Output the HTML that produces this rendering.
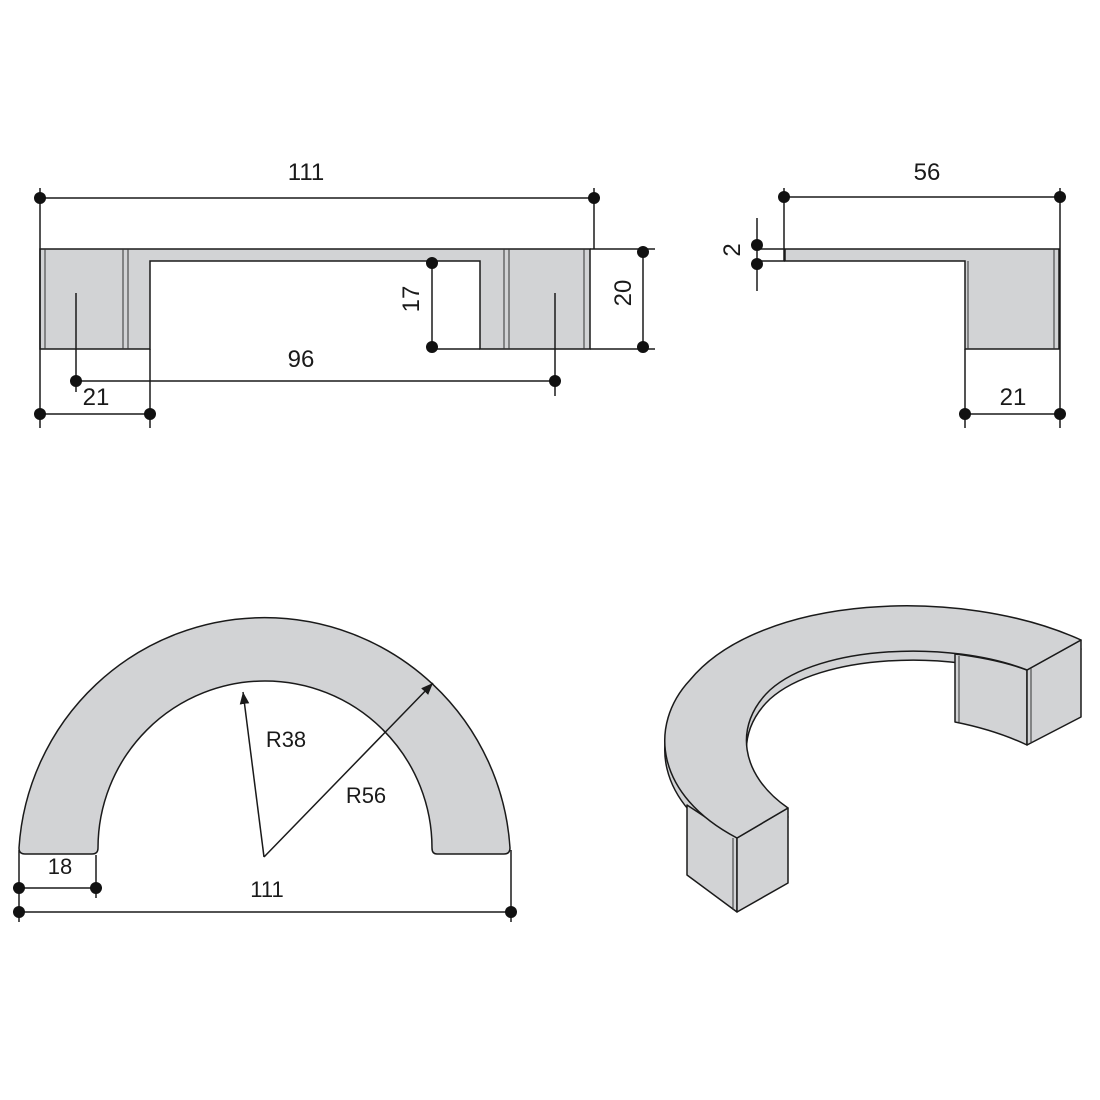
<!DOCTYPE html>
<html><head><style>html,body{margin:0;padding:0;background:#fff;}svg{display:block;}</style></head>
<body>
<svg width="1100" height="1100" viewBox="0 0 1100 1100" xmlns="http://www.w3.org/2000/svg" font-family="Liberation Sans, Arial, sans-serif" font-size="24" fill="none" stroke="#1a1a1a">
<defs><marker id="ar" viewBox="0 0 10 10" refX="10" refY="5" markerWidth="12" markerHeight="12" markerUnits="userSpaceOnUse" orient="auto"><path d="M0,1 L10,5 L0,9 Z" fill="#1a1a1a" stroke="none"/></marker></defs>

<!-- FRONT VIEW -->
<path d="M40,249 H590 V349 H480 V261 H150 V349 H40 Z" fill="#d2d3d5" stroke-width="1.5"/>
<g stroke-width="1" stroke="#333">
<line x1="45" y1="249" x2="45" y2="349"/><line x1="123" y1="249" x2="123" y2="349"/><line x1="128" y1="249" x2="128" y2="349"/>
<line x1="504" y1="249" x2="504" y2="349"/><line x1="509" y1="249" x2="509" y2="349"/><line x1="584" y1="249" x2="584" y2="349"/>
</g>
<g stroke-width="1.5">
<line x1="40" y1="198" x2="594" y2="198"/><line x1="40" y1="188" x2="40" y2="428"/><line x1="594" y1="188" x2="594" y2="249"/>
<line x1="590" y1="249" x2="655" y2="249"/><line x1="590" y1="349" x2="655" y2="349"/><line x1="643" y1="252" x2="643" y2="347"/>
<line x1="432" y1="263" x2="432" y2="347"/><line x1="432" y1="349" x2="480" y2="349"/>
<line x1="76" y1="293" x2="76" y2="392"/><line x1="555" y1="293" x2="555" y2="396"/><line x1="76" y1="381" x2="555" y2="381"/>
<line x1="150" y1="349" x2="150" y2="428"/><line x1="40" y1="414" x2="150" y2="414"/>
</g>
<g fill="#111" stroke="none">
<circle cx="40" cy="198" r="6"/><circle cx="594" cy="198" r="6"/><circle cx="643" cy="252" r="6"/><circle cx="643" cy="347" r="6"/>
<circle cx="432" cy="263" r="6"/><circle cx="432" cy="347" r="6"/><circle cx="76" cy="381" r="6"/><circle cx="555" cy="381" r="6"/>
<circle cx="40" cy="414" r="6"/><circle cx="150" cy="414" r="6"/>
</g>
<g fill="#1a1a1a" stroke="none">
<text x="306" y="180" text-anchor="middle">111</text>
<text x="301" y="367" text-anchor="middle">96</text>
<text x="96" y="405" text-anchor="middle">21</text>
<text transform="translate(419,299) rotate(-90)" text-anchor="middle">17</text>
<text transform="translate(631,293) rotate(-90)" text-anchor="middle">20</text>
</g>

<!-- SIDE VIEW -->
<path d="M785,249 H1059 V349 H965 V261 H785 Z" fill="#d2d3d5" stroke-width="1.5"/>
<g stroke-width="1" stroke="#333"><line x1="968" y1="261" x2="968" y2="349"/><line x1="1054" y1="249" x2="1054" y2="349"/></g>
<g stroke-width="1.5">
<line x1="784" y1="197" x2="1060" y2="197"/><line x1="784" y1="188" x2="784" y2="261"/><line x1="1060" y1="188" x2="1060" y2="428"/>
<line x1="757" y1="218" x2="757" y2="291"/><line x1="757" y1="249" x2="785" y2="249"/><line x1="757" y1="261" x2="785" y2="261"/>
<line x1="965" y1="349" x2="965" y2="428"/><line x1="965" y1="414" x2="1060" y2="414"/>
</g>
<g fill="#111" stroke="none">
<circle cx="784" cy="197" r="6"/><circle cx="1060" cy="197" r="6"/><circle cx="757" cy="245" r="6"/><circle cx="757" cy="264" r="6"/>
<circle cx="965" cy="414" r="6"/><circle cx="1060" cy="414" r="6"/>
</g>
<g fill="#1a1a1a" stroke="none">
<text x="927" y="180" text-anchor="middle">56</text>
<text x="1013" y="405" text-anchor="middle">21</text>
<text transform="translate(740,250) rotate(-90)" text-anchor="middle">2</text>
</g>

<!-- TOP VIEW ARC -->
<path d="M19,848 A246,246 0 0 1 510,848 Q510,854 504,854 H437 Q432,854 432,848 A167,167 0 0 0 98,848 Q98,854 92,854 H25 Q19,854 19,848 Z" fill="#d2d3d5" stroke-width="1.5"/>
<g stroke-width="1.5">
<line x1="264" y1="857" x2="243" y2="692" marker-end="url(#ar)"/>
<line x1="264" y1="857" x2="433" y2="683" marker-end="url(#ar)"/>
<line x1="19" y1="850" x2="19" y2="922"/><line x1="96" y1="855" x2="96" y2="898"/><line x1="511" y1="850" x2="511" y2="922"/>
<line x1="19" y1="888" x2="96" y2="888"/><line x1="19" y1="912" x2="511" y2="912"/>
</g>
<g fill="#111" stroke="none">
<circle cx="19" cy="888" r="6"/><circle cx="96" cy="888" r="6"/><circle cx="19" cy="912" r="6"/><circle cx="511" cy="912" r="6"/>
</g>
<g fill="#1a1a1a" stroke="none" font-size="22">
<text x="286" y="747" text-anchor="middle">R38</text>
<text x="366" y="803" text-anchor="middle">R56</text>
<text x="60" y="874" text-anchor="middle">18</text>
<text x="267" y="897" text-anchor="middle">111</text>
</g>

<!-- ISOMETRIC -->
<g stroke-width="1.5" fill="#d2d3d5" stroke-linejoin="round">
<path transform="translate(0,9)" d="M1081,640 C960,585 760,595 690,680 C648,725 655,795 737,838 L788,808 C740,775 733,725 770,690 C820,645 950,640 1027,670 Z"/>
<path d="M687,805 L737,838 L737,912 L687,875 Z"/>
<path d="M737,838 L788,808 L788,883 L737,912 Z"/>
<path d="M955,654 L955,722 C985,728 1008,736 1027,745 L1027,670 C1005,662 980,657 955,654 Z"/>
<path d="M1027,670 L1081,640 L1081,717 L1027,745 Z"/>
<path d="M1081,640 C960,585 760,595 690,680 C648,725 655,795 737,838 L788,808 C740,775 733,725 770,690 C820,645 950,640 1027,670 Z"/>
</g>
<g stroke-width="1" stroke="#333">
<line x1="733" y1="838" x2="733" y2="910"/><line x1="1031" y1="668" x2="1031" y2="743"/><line x1="959" y1="656" x2="959" y2="722"/>
</g>
</svg>
</body></html>
